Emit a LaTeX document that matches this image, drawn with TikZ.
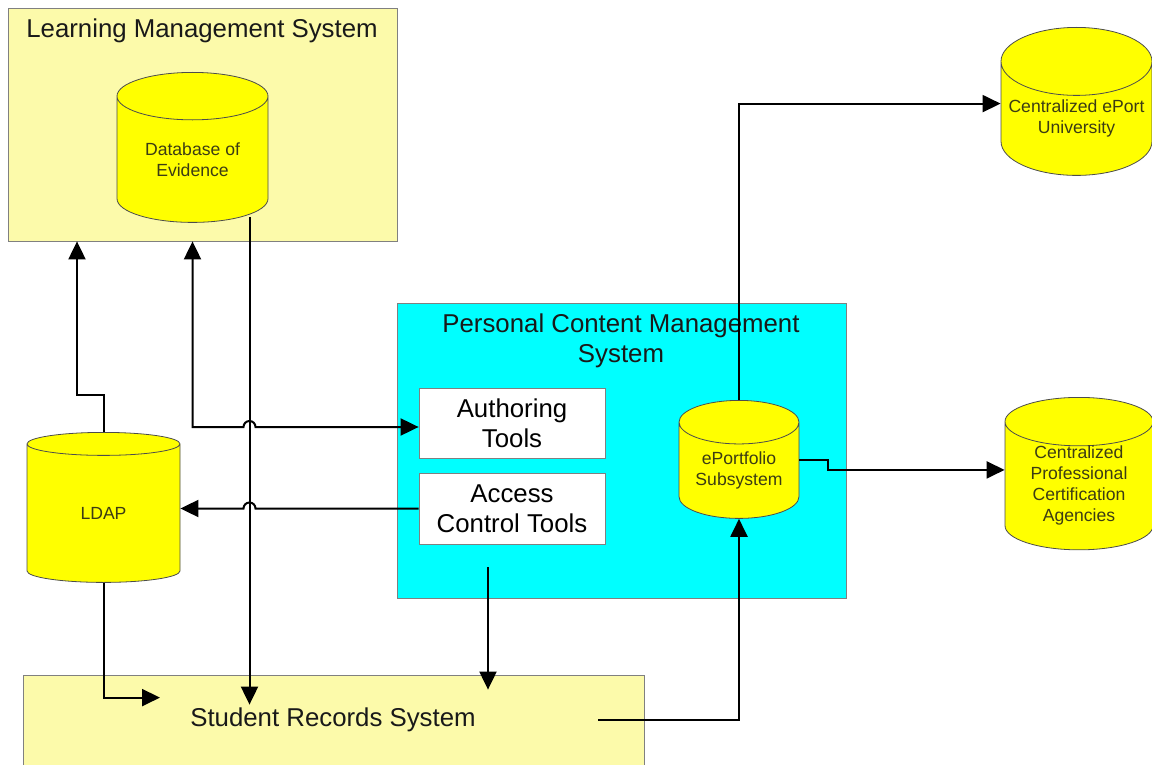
\documentclass[tikz,border=0pt]{standalone}
\usepackage{fontspec}
\setmainfont{Liberation Sans}
\usetikzlibrary{arrows.meta,shapes.geometric,positioning}
\definecolor{lmsyellow}{RGB}{252,250,170}
\definecolor{dbyellow}{RGB}{255,255,0}
\definecolor{pcmscyan}{RGB}{0,255,255}
\definecolor{dbtext}{RGB}{60,60,20}
\tikzstyle{sysbox}=[draw=black!50,fill=lmsyellow,inner sep=0pt]
\tikzstyle{pcmsbox}=[draw=black!50,fill=pcmscyan,inner sep=0pt]
\tikzstyle{toolbox}=[draw=black!50,fill=white,inner sep=0pt,align=center,minimum width=93pt,
  font=\fontsize{12.9}{15}\selectfont]
\tikzstyle{title}=[text=black!90,align=center,font=\fontsize{12.9}{15}\selectfont]
\tikzstyle{db}=[cylinder,shape border rotate=90,aspect=0.5,draw=black!70,fill=dbyellow,
  inner sep=0pt,text=dbtext,align=center,font=\fontsize{8.8}{10.5}\selectfont,anchor=north]
\tikzstyle{conn}=[draw,line width=1pt,-{Triangle[length=9pt,width=8.5pt]}]

\begin{document}
\begin{tikzpicture}[x=0.5pt,y=-0.5pt]
    \path[use as bounding box,clip] (0,0) rectangle (1152,765);
    % First we draw the systems
    \node[sysbox,minimum width=194.5pt,minimum height=116.5pt] (lms) at (202.5,124.5) {};
    \node[title] (lmstitle) at (202,31) {Learning Management System};
    \node[sysbox,minimum width=310.5pt,minimum height=60pt] (srs) at (333.5,735) {};
    \node[title] (srstitle) at (333,720) {Student Records System};
    \node[pcmsbox,minimum width=224.5pt,minimum height=147.5pt] (pcms) at (621.5,450.5) {};
    \node[title] (pcmstitle) at (621,341) {Personal Content Management\\System};
    \node[toolbox,minimum height=35pt] (author) at (512,423) {Authoring\\Tools};
    \node[toolbox,minimum height=35.5pt] (access) at (512,508.5) {Access\\Control Tools};

    % Then the databases (placed by their top)
    \foreach \pos/\name/\w/\h/\txt in {{(192.5,72)/dbev/75.5pt/75pt/Database of\\Evidence},
        {(103.5,432)/ldap/76.5pt/75pt/LDAP},
        {(739,400)/epf/60pt/59pt/ePortfolio\\Subsystem},
        {(1076.5,27)/cepu/75.5pt/74pt/Centralized ePort\\University},
        {(1079,397)/cpca/74pt/75pt/Centralized\\Professional\\Certification\\Agencies}}
        \node[db,minimum width=\w,minimum height=\h] (\name) at \pos {\txt};

    % Connect them
    \coordinate (dbtap) at ([xshift=28.5pt,yshift=3pt]dbev.south);
    \coordinate (pout) at ([xshift=-66.75pt,yshift=15.5pt]pcms.south);
    \coordinate (srsout) at ([xshift=-23pt]srs.east);
    \coordinate (epfout) at ([yshift=5pt]epf.east);
    \path[conn] (dbtap) -- ([yshift=-15pt]dbtap |- srs.north);
    \path[conn] (ldap.north) |- ++(-26.5,-37) coordinate (k1) -- (k1 |- lms.south);
    \path[conn,{Triangle[length=9pt,width=8.5pt]}-{Triangle[length=9pt,width=8.5pt]}]
        (dbev.south |- lms.south) |- ([xshift=-3pt,yshift=-2pt]dbtap |- author.west)
        arc[start angle=180,end angle=0,radius=3pt] -- ([yshift=-2pt]author.west);
    \path[conn] (access.west) -- ([xshift=3pt]dbtap |- access.west)
        arc[start angle=0,end angle=180,radius=3pt] -- (ldap.east |- access.west);
    \path[conn] (ldap.south) |- ([xshift=28.25pt,yshift=-11.5pt]ldap.south |- srs.north);
    \path[conn] (pout) -- ([yshift=-7.5pt]pout |- srs.north);
    \path[conn] (srsout |- srstitle) -| (epf.south);
    \path[conn] (epf.north) |- ([yshift=7.5pt]cepu.west);
    \path[conn] (epfout) -- ++(14.5pt,0) |- ([yshift=8pt]cpca.west);
\end{tikzpicture}
\end{document}
